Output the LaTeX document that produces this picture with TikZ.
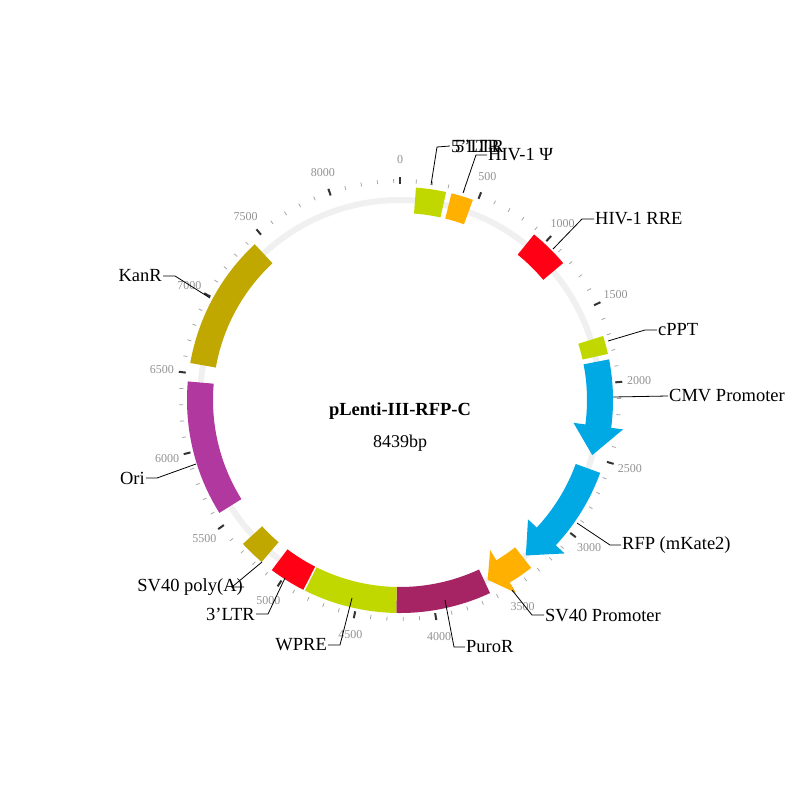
\documentclass[tikz,border=0pt]{standalone}
\usepackage{fontspec}
\setmainfont{Liberation Serif}
\definecolor{cgreen}{RGB}{192,216,0}
\definecolor{corange}{RGB}{255,176,0}
\definecolor{cred}{RGB}{255,0,20}
\definecolor{ccyan}{RGB}{0,168,228}
\definecolor{cpuro}{RGB}{166,36,100}
\definecolor{colive}{RGB}{192,168,0}
\definecolor{cori}{RGB}{176,56,158}
\begin{document}
\begin{tikzpicture}[x=1pt,y=-1pt,
  lbl/.style={font=\fontsize{18.5}{20}\selectfont,inner sep=1pt},
  lead/.style={black,line width=0.8pt},
  tnum/.style={font=\fontsize{12}{13}\selectfont,text=gray!85}]
\useasboundingbox (0,0) rectangle (800,800);
\fill[white] (0,0) rectangle (800,800);
\newcommand\feat[3]{\fill[#1] ({#2-90}:213) arc[start angle={#2-90},end angle={#3-90},radius=213] -- ({#3-90}:187) arc[start angle={#3-90},end angle={#2-90},radius=187] -- cycle;}
\newcommand\arr[4]{\fill[#1] ({#2-90}:213) arc[start angle={#2-90},end angle={#3-#4-90},radius=213] -- ({#3-#4-90}:225) -- ({#3-90}:200) -- ({#3-#4-90}:175) -- ({#3-#4-90}:187) arc[start angle={#3-#4-90},end angle={#2-90},radius=187] -- cycle;}
\begin{scope}[shift={(400,400)}]
\draw[gray!12,line width=6pt] (0,0) circle[radius=200];
\foreach \i in {0,...,84}{
  \pgfmathsetmacro\a{\i*100/8439*360-90}
  \pgfmathtruncatemacro\m{mod(\i,5)}
  \ifnum\m=0
    \draw[black!80,line width=2pt] (\a:216) -- (\a:223);
    \pgfmathtruncatemacro\v{\i*100}
    \node[tnum] at (\a:240) {\v};
  \else
    \draw[gray!70,line width=0.8pt] (\a:217) -- (\a:221);
  \fi}
\feat{cgreen}{4.3}{12.5}
\feat{corange}{14}{20}
\feat{cred}{39}{50}
\feat{cgreen}{72.5}{77.5}
\arr{ccyan}{79}{106}{8.5}
\arr{ccyan}{110}{141}{8}
\arr{corange}{142}{154}{5}
\feat{cpuro}{155}{181}
\feat{cgreen}{181}{206.5}
\feat{cred}{207}{217}
\feat{colive}{220.5}{227.5}
\feat{cori}{238}{275}
\feat{colive}{280}{317}
\end{scope}
\node[font=\bfseries\fontsize{18.5}{20}\selectfont] (t) at (400,411) {pLenti-III-RFP-C};
\node[font=\fontsize{18}{20}\selectfont] (bp) at (400,443) {8439bp};
% labels
\node[lbl,anchor=west] (l1) at (450,146) {5'LTR};
\node[lbl,anchor=west] (l1b) at (454,146) {5'LTR};
\coordinate (c1) at (431,185); \draw[lead] (c1) -- (437,147) -- (l1.west);
\node[lbl,anchor=west] (l2) at (487,155) {HIV-1 Ψ};
\coordinate (c2) at (463,193); \draw[lead] (c2) -- (476,155) -- (l2.west);
\node[lbl,anchor=west] (l3) at (594,219) {HIV-1 RRE};
\coordinate (c3) at (553,249); \draw[lead] (c3) -- (582,219) -- (l3.west);
\node[lbl,anchor=west] (l4) at (657,330) {cPPT};
\coordinate (c4) at (608,341); \draw[lead] (c4) -- (645,330) -- (l4.west);
\node[lbl,anchor=west] (l5) at (668,396) {CMV Promoter};
\coordinate (c5) at (613,397); \draw[lead] (c5) -- (l5.west);
\node[lbl,anchor=west] (l6) at (621,545) {RFP (mKate2)};
\coordinate (c6) at (577,523); \draw[lead] (c6) -- (610,545) -- (l6.west);
\node[lbl,anchor=west] (l7) at (544,615) {SV40 Promoter};
\coordinate (c7) at (512,590); \draw[lead] (c7) -- (532,615) -- (l7.west);
\node[lbl,anchor=west] (l8) at (465,647) {PuroR};
\coordinate (c8) at (445,600); \draw[lead] (c8) -- (454,647) -- (l8.west);
\node[lbl,anchor=east] (l9) at (328,645) {WPRE};
\coordinate (c9) at (352,598); \draw[lead] (c9) -- (340,645) -- (l9.east);
\node[lbl,anchor=east] (l10) at (256,614) {3’LTR};
\coordinate (c10) at (285,578); \draw[lead] (c10) -- (268,614) -- (l10.east);
\node[lbl,anchor=east] (l11) at (244,587) {SV40 poly(A)};
\coordinate (c11) at (262,562); \draw[lead] (c11) -- (232,587) -- (l11.east);
\node[lbl,anchor=east] (l12) at (146,478) {Ori};
\coordinate (c12) at (196,464); \draw[lead] (c12) -- (157,478) -- (l12.east);
\node[lbl,anchor=east] (l13) at (163,276) {KanR};
\coordinate (c13) at (210,298); \draw[lead] (c13) -- (175,276) -- (l13.east);
\end{tikzpicture}
\end{document}
